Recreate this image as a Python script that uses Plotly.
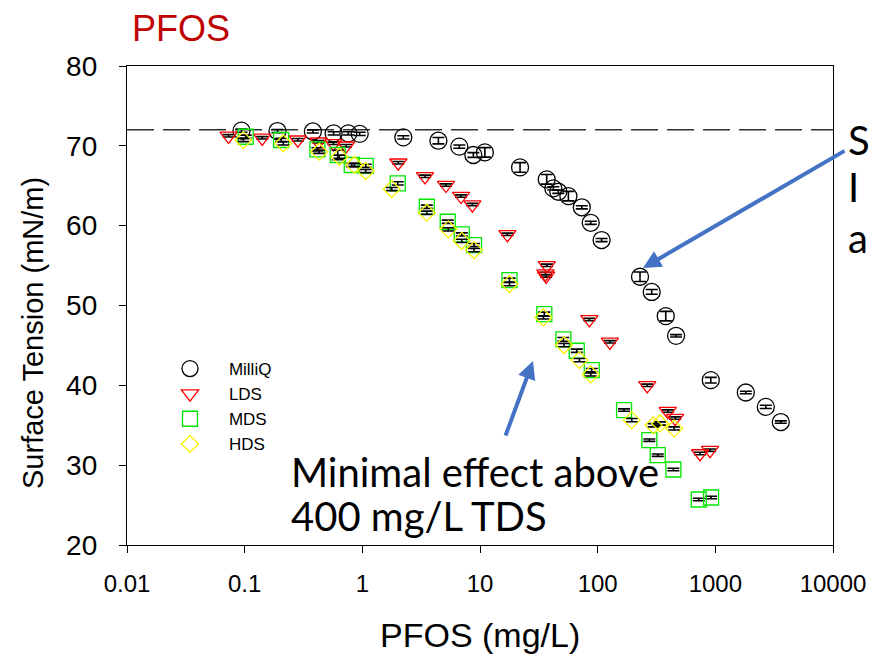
import plotly.graph_objects as go

# ---------------- data ----------------
milliq_x = [0.094, 0.19, 0.38, 0.57, 0.76, 0.95, 2.23, 4.43, 6.67, 8.78, 11.0, 21.9, 36.9, 42.0,
            46.3, 56.4, 73.3, 87.3, 108, 229, 288, 379, 464, 915, 1815, 2685, 3600]
milliq_y = [71.9, 71.85, 71.8, 71.56, 71.56, 71.5, 71.06, 70.64, 69.9, 68.85, 69.18, 67.3, 65.8, 64.67,
            64.25, 63.7, 62.3, 60.36, 58.2, 53.6, 51.7, 48.67, 46.2, 40.65, 39.1, 37.3, 35.4]
milliq_err = [0.2, 0.2, 0.2, 0.2, 0.2, 0.2, 0.2, 0.4, 0.2, 0.3, 0.6, 0.6, 0.6, 0.2,
              0.2, 0.6, 0.2, 0.2, 0.2, 0.6, 0.3, 0.6, 0.15, 0.35, 0.15, 0.2, 0.15]

lds_x = [0.073, 0.141, 0.283, 0.423, 0.568, 0.727, 2.02, 3.41, 5.14, 6.90, 8.61, 17.1, 37.0, 36.0,
         36.5, 85.0, 127, 264, 394, 455, 742, 902]
lds_y = [71.25, 71.0, 70.76, 70.51, 70.31, 70.01, 67.88, 66.18, 65.09, 63.71, 62.64, 58.91, 55.03, 54.0,
         53.7, 48.26, 45.45, 40.0, 36.77, 35.9, 31.46, 31.88]
lds_err = [0.15] * len(lds_x)

mds_x = [0.102, 0.204, 0.415, 0.618, 0.813, 1.069, 2.0, 3.53, 5.32, 7.0, 8.9, 17.8, 35.2, 51.1,
         66.4, 89.1, 167.6, 275, 324, 440, 723, 920]
mds_y = [71.14, 70.73, 69.56, 68.85, 67.6, 67.5, 65.3, 62.37, 60.49, 58.9, 57.57, 53.18, 48.92, 45.75,
         44.33, 41.9, 36.9, 33.13, 31.25, 29.46, 25.7, 25.95]
mds_err = [0.2, 0.2, 0.2, 0.6, 0.2, 0.2, 0.2, 0.2, 0.2, 0.2, 0.2, 0.25, 0.25, 0.25,
           0.2, 0.2, 0.15, 0.15, 0.15, 0.15, 0.15, 0.15]

hds_x = [0.0975, 0.213, 0.429, 0.638, 0.855, 1.069, 1.778, 3.53, 5.38, 7.0, 8.9, 17.8, 34.6, 51.8,
         70.0, 87.3, 195, 298, 339, 446]
hds_y = [70.73, 70.31, 69.26, 68.63, 67.6, 66.84, 64.59, 61.62, 59.54, 58.1, 56.94, 52.68, 48.5, 45.04,
         43.16, 41.36, 35.64, 35.0, 35.22, 34.6]
hds_err = [0.2] * len(hds_x)

water_tension = 72.0  # dashed reference line

x_tickvals = [0.01, 0.1, 1, 10, 100, 1000, 10000]
x_ticktext = ["0.01", "0.1", "1", "10", "100", "1000", "10000"]
y_tickvals = [20, 30, 40, 50, 60, 70, 80]

# ---------------- layout helpers ----------------
# the page body has an 8px default margin, so the figure is made 8px smaller
OFF = 8
SCREEN_W, SCREEN_H = 880, 654
W, H = SCREEN_W - OFF, SCREEN_H - OFF
L, R, T, B = 127, 833, 66, 545   # plot area in screen pixels


def px(xp):
    return (xp - L) / (R - L)


def py(yp):
    return (B - yp) / (B - T)


fig = go.Figure()

NB = "\u00a0" * 4


def add(name, x, y, err, symbol, color, size):
    fig.add_trace(go.Scatter(
        x=x, y=y, mode="markers", name=NB + name, legendgroup=name,
        marker=dict(symbol=symbol, size=size, color="rgba(0,0,0,0)",
                    line=dict(color=color, width=1.3)),
        error_y=dict(type="data", array=err, visible=True, color="black",
                     thickness=1.6, width=6),
    ))


add("MilliQ", milliq_x, milliq_y, milliq_err, "circle", "#000000", 17)
add("LDS", lds_x, lds_y, lds_err, "triangle-down", "#ff0000", 15)
add("MDS", mds_x, mds_y, mds_err, "square", "#00e600", 15)
add("HDS", hds_x, hds_y, hds_err, "diamond", "#f5f500", 13)

fig.add_shape(type="line", xref="paper", x0=0, x1=1, yref="y", y0=water_tension, y1=water_tension,
              line=dict(color="#303030", width=1.5, dash="27px,9px"), layer="below")

axis_common = dict(showline=True, linecolor="black", linewidth=1.3, mirror=True,
                   ticks="outside", ticklen=7, tickcolor="black", tickwidth=1.3,
                   showgrid=False, zeroline=False, automargin=False)

fig.update_xaxes(type="log", range=[-2, 4], tickvals=x_tickvals, ticktext=x_ticktext,
                 tickfont=dict(family="Liberation Sans", size=24, color="black"),
                 ticklabelstandoff=10, **axis_common)
fig.update_yaxes(range=[20, 80], tickvals=y_tickvals,
                 tickfont=dict(family="Liberation Sans", size=28, color="black"),
                 ticklabelstandoff=16, **axis_common)

annots = [
    dict(text="PFOS", x=px(130), y=py(29), xanchor="left", yanchor="middle",
         font=dict(family="Liberation Sans", size=36, color="#c00000")),
    dict(text="Surface Tension (mN/m)", x=px(33), y=py(333), xanchor="center", yanchor="middle",
         textangle=-90, font=dict(family="Liberation Sans", size=29, color="black")),
    dict(text="PFOS (mg/L)", x=px(480), y=py(635), xanchor="center", yanchor="middle",
         font=dict(family="Liberation Sans", size=34, color="black")),
    dict(text="Minimal effect above", x=px(289), y=py(472), xanchor="left", yanchor="middle",
         font=dict(family="Lato", size=40, color="black")),
    dict(text="400 mg/L TDS", x=px(289), y=py(516), xanchor="left", yanchor="middle",
         font=dict(family="Lato", size=40, color="black")),
    # text at the right edge of the slide, only its first letters are visible
    dict(text="S", x=px(846), y=py(140), xanchor="left", yanchor="middle",
         font=dict(family="Lato", size=40, color="black")),
    dict(text="I", x=px(846), y=py(187), xanchor="left", yanchor="middle",
         font=dict(family="Lato", size=40, color="black")),
    dict(text="a", x=px(846), y=py(238), xanchor="left", yanchor="middle",
         font=dict(family="Lato", size=40, color="black")),
]
for a in annots:
    a.update(xref="paper", yref="paper", showarrow=False)

# blue arrows
arrows = [
    dict(x=px(643), y=py(268), ax=846 - 643, ay=150 - 268),
    dict(x=px(533), y=py(361), ax=505 - 533, ay=437 - 361),
]
for a in arrows:
    a.update(xref="paper", yref="paper", showarrow=True, arrowhead=2, arrowsize=0.9,
             arrowwidth=4, arrowcolor="#4472c4", text="", standoff=0)
    annots.append(a)

fig.update_layout(
    width=W, height=H,
    margin=dict(l=L - OFF, r=SCREEN_W - R, t=T - OFF, b=SCREEN_H - B, autoexpand=False),
    paper_bgcolor="white", plot_bgcolor="white",
    showlegend=True,
    legend=dict(x=px(170), y=py(351), xanchor="left", yanchor="top",
                font=dict(family="Liberation Sans", size=17, color="black"),
                bgcolor="rgba(0,0,0,0)", tracegroupgap=0, itemsizing="trace"),
    annotations=annots,
)

fig.write_html("out.html")
